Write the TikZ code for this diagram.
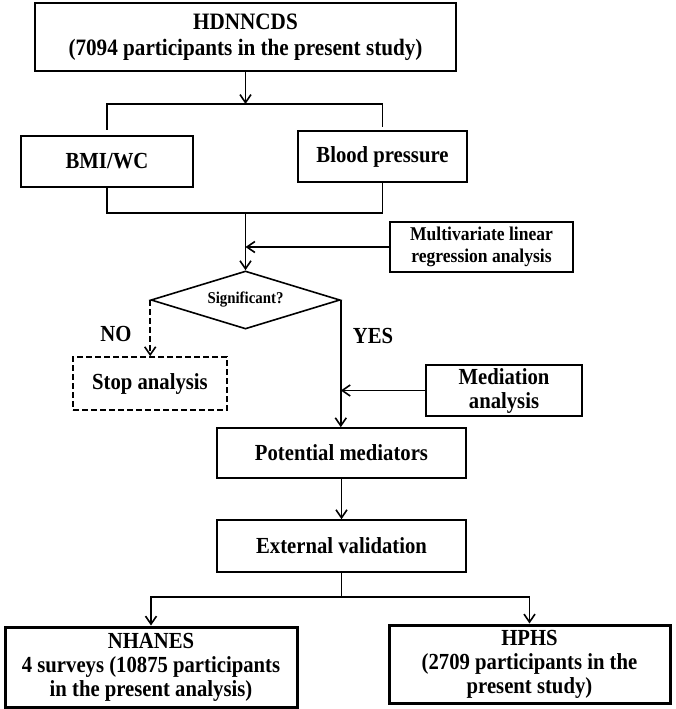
\documentclass[tikz,border=0pt]{standalone}
\usepackage{fontspec}
\setmainfont{Liberation Serif}[FakeStretch=0.9]
\usetikzlibrary{shapes.geometric,arrows.meta}

\begin{document}
\begin{tikzpicture}[x=1pt, y=-1pt, every path/.style={line width=1.6pt},
    box/.style={draw, rectangle, align=center, inner sep=0pt, font=\bfseries\fontsize{23}{24}\selectfont},
    bigbox/.style={box, line width=3pt},
    arr/.style={-{Straight Barb[length=8pt, width=11pt, line width=1.6pt]}},
    lbl/.style={font=\bfseries\fontsize{23}{24}\selectfont}]

    \useasboundingbox (0,0) rectangle (675,709);

    \node[box, minimum width=421pt, minimum height=68pt, font=\bfseries\fontsize{23.5}{26}\selectfont] (hdn) at (245.5,37) {HDNNCDS\\(7094 participants in the present study)};

    \node[box, minimum width=172pt, minimum height=51pt] (bmi) at (107,161.5) {BMI/WC};

    \node[box, minimum width=169pt, minimum height=51pt] (bp) at (382.5,156.5) {Blood pressure};

    \node[box, minimum width=183pt, minimum height=50pt, font=\bfseries\fontsize{19.5}{22}\selectfont] (mlr) at (481.5,247) {Multivariate linear\\regression analysis};

    \node[draw, diamond, aspect=3.26, minimum width=189pt, minimum height=58pt, inner sep=0pt, font=\bfseries\fontsize{16.5}{18}\selectfont] (sig) at (245.5,300) {Significant?};

    \node[box, dash pattern=on 6pt off 3pt, minimum width=154pt, minimum height=53pt] (stop) at (150,383.5) {Stop analysis};

    \node[box, minimum width=156pt, minimum height=51pt] (med) at (504,390.5) {Mediation\\analysis};

    \node[box, minimum width=249pt, minimum height=50pt] (pot) at (341.5,453) {Potential mediators};

    \node[box, minimum width=249pt, minimum height=52pt] (ext) at (341.5,546) {External validation};

    \node[bigbox, minimum width=292pt, minimum height=80pt] (nha) at (151,667) {NHANES\\4 surveys (10875 participants\\in the present analysis)};

    \node[bigbox, minimum width=281pt, minimum height=78pt] (hph) at (529.5,664) {HPHS\\(2709 participants in the\\present study)};

    \node[lbl] (no) at (116,334) {NO};

    \node[lbl] (yes) at (373,336) {YES};


    \coordinate (fork) at (245.5,104);

    \coordinate (join) at (245.5,213);

    \coordinate (split) at (341.5,597);

    \draw[arr] (hdn.south) to (fork);

    \draw[shorten >=5pt] (fork) -| (bmi.north);

    \draw[shorten >=3pt] (fork) -| (bp.north);

    \draw[] (bmi.south) |- (join) -| (bp.south);

    \draw[arr] (join) to (sig.north);

    \draw[arr] (mlr.west) to (mlr.west -| sig.north);

    \draw[arr, dash pattern=on 6pt off 3pt] (sig.west) to (sig.west |- stop.north);

    \draw[arr] (sig.east) to (sig.east |- pot.north);

    \draw[arr] (med.west) to (med.west -| sig.east);

    \draw[arr] (pot.south) to (ext.north);

    \draw[] (ext.south) to (split);

    \draw[arr] (split) -| (nha.north);

    \draw[arr] (split) -| (hph.north);

\end{tikzpicture}
\end{document}
